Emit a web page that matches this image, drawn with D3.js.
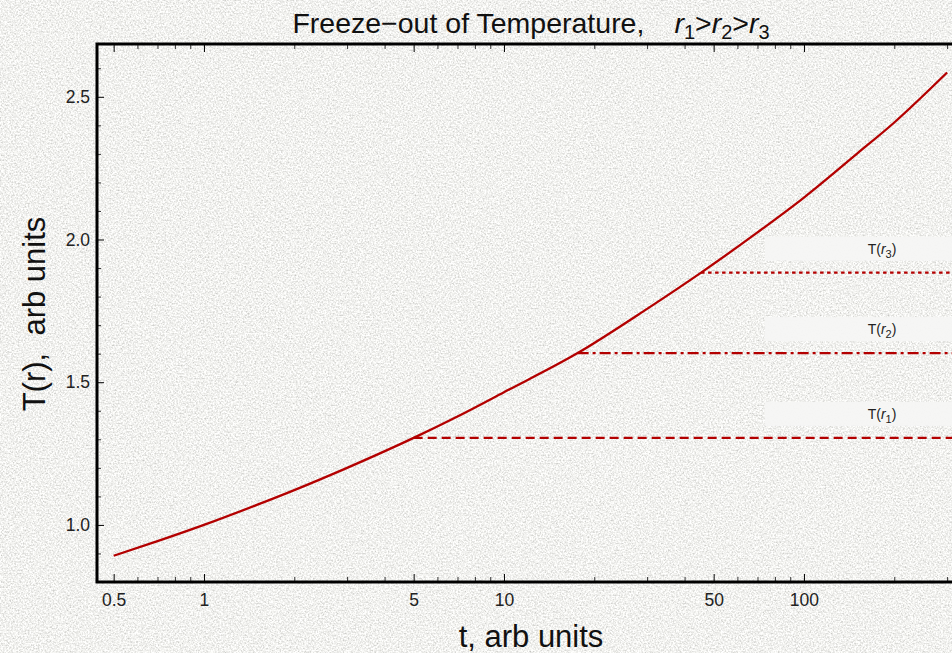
<!DOCTYPE html>
<html lang="en">
<head>
<meta charset="utf-8">
<title>Freeze-out of Temperature</title>
<style>
  html, body { margin: 0; padding: 0; overflow: hidden; }
  svg { display: block; font-family: 'Liberation Sans', Arial, sans-serif; }
  .axis text { font-size: 17.5px; fill: #222; }
  .axis line { stroke: #000; stroke-width: 1; }
  .axis path { display: none; }
  .minor line { stroke: #333; }
</style>
</head>
<body>
<svg width="952" height="653"></svg>
<script src="https://cdn.jsdelivr.net/npm/d3@7/dist/d3.min.js"></script>
<script>
// values
var curveT = [0.5, 0.7, 1, 1.5, 2, 3, 5, 7, 10, 17.6, 30, 45.4, 70, 100, 150, 200, 300];
var curveTemp = [0.892, 0.943, 1.0, 1.07, 1.122, 1.2, 1.305, 1.38, 1.465, 1.602, 1.757, 1.884, 2.025, 2.147, 2.30, 2.41, 2.585];

var freezeNames = ["1", "2", "3"];
var freezeT = [5, 17.6, 45.4];
var freezeTemp = [1.305, 1.602, 1.884];
var freezeDash = ["9,5", "11,4,3,4", "3.5,3.5"];

var xMajor = [0.5, 1, 5, 10, 50, 100];
var xMinor = [0.6, 0.7, 0.8, 0.9, 2, 3, 4, 6, 7, 8, 9, 20, 30, 40, 60, 70, 80, 90, 200, 300];
var yMajor = [1.0, 1.5, 2.0, 2.5];
var yMinor = [0.9, 1.1, 1.2, 1.3, 1.4, 1.6, 1.7, 1.8, 1.9, 2.1, 2.2, 2.3, 2.4, 2.6];

var red = "#b30000";

var svg = d3.select("svg"),
    margin = {top: 44, left: 97},
    width = 860,
    height = 538;

// paper-like noisy background
var defs = svg.append("defs");
var f = defs.append("filter").attr("id", "paper")
    .attr("x", 0).attr("y", 0).attr("width", "100%").attr("height", "100%");
f.append("feTurbulence").attr("type", "fractalNoise")
    .attr("baseFrequency", 0.6).attr("numOctaves", 4).attr("seed", 7).attr("result", "n");
f.append("feColorMatrix").attr("in", "n").attr("type", "matrix")
    .attr("values", "1 0 0 0 0  1 0 0 0 0  1 0 0 0 0  0 0 0 0 1").attr("result", "g");
var ct = f.append("feComponentTransfer").attr("in", "g");
ct.append("feFuncR").attr("type", "linear").attr("slope", 0.75).attr("intercept", 0.51);
ct.append("feFuncG").attr("type", "linear").attr("slope", 0.75).attr("intercept", 0.51);
ct.append("feFuncB").attr("type", "linear").attr("slope", 0.75).attr("intercept", 0.49);

svg.append("rect").attr("width", 952).attr("height", 653)
    .attr("fill", "#e6e6e2").attr("filter", "url(#paper)");

var x = d3.scaleLog().domain([0.44, 0.44 * Math.pow(10, width / 300)]).range([0, width]),
    y = d3.scaleLinear().domain([0.8, 2.685]).range([height, 0]);

var g = svg.append("g")
    .attr("transform", "translate(" + margin.left + "," + margin.top + ")");

// bottom axis
g.append("g").attr("class", "axis")
    .attr("transform", "translate(0," + height + ")")
    .call(d3.axisBottom(x).tickValues(xMajor).tickSize(-8).tickPadding(12)
        .tickFormat(function(d) { return d; }));
g.append("g").attr("class", "axis minor")
    .attr("transform", "translate(0," + height + ")")
    .call(d3.axisBottom(x).tickValues(xMinor).tickSize(-5).tickFormat(""));

// top axis (mirror ticks, no labels)
g.append("g").attr("class", "axis")
    .call(d3.axisTop(x).tickValues(xMajor).tickSize(-8).tickFormat(""));
g.append("g").attr("class", "axis minor")
    .call(d3.axisTop(x).tickValues(xMinor).tickSize(-5).tickFormat(""));

// left axis
g.append("g").attr("class", "axis")
    .call(d3.axisLeft(y).tickValues(yMajor).tickSize(-7).tickPadding(7)
        .tickFormat(d3.format(".1f")));
g.append("g").attr("class", "axis minor")
    .call(d3.axisLeft(y).tickValues(yMinor).tickSize(-4).tickFormat(""));

// frame
g.append("path")
    .attr("d", "M" + (width + 20) + ",0H0V" + height + "H" + (width + 20))
    .attr("fill", "none").attr("stroke", "#000").attr("stroke-width", 3);

// label boxes for the freeze-out levels
var labels = g.selectAll(".lab")
    .data(freezeNames)
    .enter().append("g").attr("class", "lab");

labels.append("rect")
    .attr("x", 668)
    .attr("y", function(d, i) { return y(freezeTemp[i]) - 36; })
    .attr("width", 220)
    .attr("height", 24)
    .attr("fill", "#f5f5f4")
    .attr("opacity", 0.95);

var lt = labels.append("text")
    .attr("x", 785)
    .attr("y", function(d, i) { return y(freezeTemp[i]) - 19; })
    .attr("text-anchor", "middle")
    .style("font-size", "14px")
    .attr("fill", "#222");
lt.append("tspan").text("T(");
lt.append("tspan").style("font-style", "italic").text("r");
lt.append("tspan").attr("dy", 4).style("font-size", "11px").text(function(d) { return d; });
lt.append("tspan").attr("dy", -4).text(")");

// horizontal freeze-out lines
g.selectAll(".freeze")
    .data(freezeNames)
    .enter().append("line")
    .attr("class", "freeze")
    .attr("x1", function(d, i) { return x(freezeT[i]); })
    .attr("x2", width + 20)
    .attr("y1", function(d, i) { return y(freezeTemp[i]); })
    .attr("y2", function(d, i) { return y(freezeTemp[i]); })
    .attr("stroke", red)
    .attr("stroke-width", 2.2)
    .attr("stroke-dasharray", function(d, i) { return freezeDash[i]; });

// temperature curve
var line = d3.line()
    .x(function(d, i) { return x(curveT[i]); })
    .y(function(d) { return y(d); })
    .curve(d3.curveMonotoneX);

g.append("path")
    .datum(curveTemp)
    .attr("d", line)
    .attr("fill", "none")
    .attr("stroke", red)
    .attr("stroke-width", 2.3);

// title
var title = svg.append("text")
    .attr("x", 531).attr("y", 33)
    .attr("text-anchor", "middle")
    .style("font-size", "28.5px")
    .attr("fill", "#111");
title.append("tspan").text("Freeze\u2212out of Temperature,");
title.append("tspan").attr("dx", 30).style("font-style", "italic").text("r");
title.append("tspan").attr("dy", 6).style("font-size", "20px").text("1");
title.append("tspan").attr("dy", -6).text(">");
title.append("tspan").style("font-style", "italic").text("r");
title.append("tspan").attr("dy", 6).style("font-size", "20px").text("2");
title.append("tspan").attr("dy", -6).text(">");
title.append("tspan").style("font-style", "italic").text("r");
title.append("tspan").attr("dy", 6).style("font-size", "20px").text("3");

// axis labels
svg.append("text")
    .attr("x", 531).attr("y", 647)
    .attr("text-anchor", "middle")
    .style("font-size", "31px")
    .attr("fill", "#111")
    .text("t, arb units");

svg.append("text")
    .attr("transform", "translate(45,314) rotate(-90)")
    .attr("text-anchor", "middle")
    .style("font-size", "31px")
    .attr("fill", "#111")
    .text("T(r),\u00a0 arb units");
</script>
</body>
</html>
